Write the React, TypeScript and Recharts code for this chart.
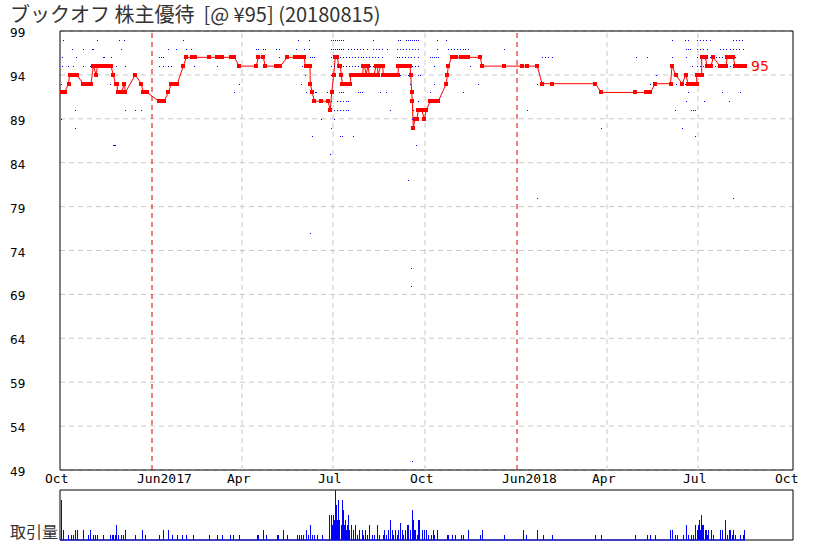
import React from "react";
import {
  ComposedChart,
  Line,
  Scatter,
  Bar,
  XAxis,
  YAxis,
  CartesianGrid,
  ReferenceLine,
  ReferenceArea,
  ReferenceDot,
} from "recharts";

// x = days since 2016-10-01
const X_TICKS = [0, 92, 182, 273, 365, 457, 547, 638, 730];
const X_LABELS = ["Oct", "Jun2017", "Apr", "Jul", "Oct", "Jun2018", "Apr", "Jul", "Oct"];
const Y_TICKS = [49, 54, 59, 64, 69, 74, 79, 84, 89, 94, 99];
const LAST_PRICE = 95;

// closing price line [day, price]
const priceLine: [number, number][] = [
  [0, 92], [2, 92], [4.5, 92], [8.5, 93], [9.5, 94], [12, 94], [15, 94], [17, 94],
  [23, 93], [25, 93], [28, 93], [31, 93],
  [33.3, 95], [36.3, 94], [37.3, 95], [40, 95], [44, 95], [48, 95], [51, 95],
  [53.3, 94], [55.5, 93], [57, 93], [57.5, 92], [60, 92], [61.3, 92],
  [64.3, 93], [65.3, 92], [75.3, 94],
  [81.3, 93], [83.3, 92], [85.5, 92], [87.3, 92],
  [98.7, 91], [101, 91], [104, 91],
  [108.3, 92], [111.3, 93], [114, 93], [117.3, 93],
  [123.3, 95], [126.3, 96], [132.3, 96], [134, 96], [135, 96], [149.3, 96], [156.7, 96],
  [158.3, 96], [162.3, 96], [170.7, 96], [172.5, 96], [174.3, 96],
  [179.3, 95], [196.3, 95], [198.3, 96], [203.3, 96],
  [205.3, 95], [215.7, 95], [218, 95], [220.3, 95],
  [227.3, 96], [235.3, 96], [238, 96], [241, 96], [244, 96],
  [245.5, 95], [248, 95], [250, 95],
  [250.3, 93], [252.3, 92], [254.3, 91], [261, 91], [268, 91], [270.3, 90], [271.7, 92],
  [273.7, 94], [275.3, 96], [277.3, 96], [278.7, 95], [280.3, 95], [281.3, 94],
  [282.3, 93], [285, 93], [287.5, 93], [290.3, 93],
  [290.5, 94], [293, 94], [296, 94], [299, 94], [302.7, 94],
  [303.3, 95], [304.7, 95], [306, 94], [308, 95], [309.3, 94], [312, 94], [314, 94],
  [316, 95], [317.3, 95], [318, 94], [320.7, 95], [322.7, 95], [323.3, 94], [326, 94],
  [329, 94], [332, 94], [335, 94], [338, 94],
  [338.5, 95], [341, 95], [344, 95], [347, 95], [350, 95],
  [350.7, 94], [351.7, 92], [352.3, 91], [353.3, 88], [355, 89], [357, 89], [358.3, 90],
  [360, 90], [361.7, 90], [364.3, 89], [366.3, 90], [370.3, 91], [373, 91], [376, 91], [378.3, 91],
  [386.3, 93], [387.3, 94], [388.3, 95], [391.7, 96], [394, 96], [396.3, 96], [400.7, 96],
  [403, 96], [405, 96], [408.3, 96], [420.3, 96], [422, 95], [444.3, 95], [462.3, 95],
  [467.3, 95], [477.3, 95],
  [482, 93], [492.3, 93], [535.3, 93], [541.3, 92], [575.3, 92], [586.3, 92], [588.3, 92],
  [590.3, 92], [595.3, 93], [610.5, 93], [612, 95], [615.7, 94], [622.3, 93], [625.7, 94],
  [628.3, 93], [631, 93], [634, 93], [636.7, 93], [636.7, 94], [639, 94], [641.7, 94],
  [641.7, 96], [643.7, 96], [645.7, 96], [646.7, 95], [649, 95], [651, 95], [653.3, 96],
  [660, 95], [662, 95], [664, 95], [666, 95], [667.3, 96], [669.5, 96], [671.5, 96],
  [673.3, 96], [675, 95], [677.5, 95], [680, 95], [682.5, 95], [685, 95],
];

// individual quotes: [price, days...]
const quoteRows: [number, number[]][] = [
  [98, [3.3, 37.3, 59.3, 64.3, 123.3, 238.3, 249.3, 271, 273, 275, 277, 279, 281, 283, 313.3,
    338.3, 340, 346, 348, 350, 352, 354, 356, 358.3, 377.3, 386, 611.7, 625, 628.3, 636.7,
    640, 643, 646, 650, 673.3, 676, 679, 682.3]],
  [97, [12.3, 23.3, 32.3, 33.3, 61.3, 108.3, 116.3, 126.3, 131.3, 196.3, 198.3, 203.3, 205.3,
    216.3, 219.3, 236.3, 244, 249.3, 271, 273, 275, 277, 279, 281, 283, 288, 291, 294, 297, 300,
    303, 306.7, 312.7, 316, 319, 322, 326.7, 336.7, 340, 343, 346, 349, 352, 355, 358.3, 376.7,
    388.3, 391, 394, 397, 400, 403, 405, 408.3, 444, 626, 628, 630, 637.3, 640, 643, 646.7,
    660, 663, 666, 670, 673.3, 676, 679, 682.7]],
  [96, [2.3, 16.3, 43.3, 44.3, 51.3, 99.3, 101.3, 103.3, 219.3, 250.3, 252, 254.3, 271, 274,
    277, 280, 283, 286, 289, 292, 295, 298, 301, 303.3, 306, 309, 312, 315, 318, 321.7, 336.7,
    339, 342, 345, 348, 351, 354, 358.3, 370.3, 372.3, 374.3, 376.3, 378.3, 482, 485, 488.3,
    492.3, 575.7, 587.3, 611.7, 626, 637, 640, 643, 646, 650, 653, 656, 659, 662, 665, 668,
    671, 675]],
  [95, [2.3, 8.3, 13.3, 23.3, 30.3, 56.3, 65.3, 99.3, 103.3, 108.3, 111.3, 134.3, 157.3, 241.7,
    249.3, 271, 274, 277, 280, 283, 286, 289, 292, 295, 298, 301, 304, 307, 310, 313, 316, 319,
    322, 340, 343, 346, 349, 352, 355, 358.3, 374.3, 410.3, 632.3, 637, 640, 643, 646, 655,
    658, 661, 664, 667, 670, 673.3]],
  [94, [244.7, 271, 274, 295, 340, 348.3, 358, 359.7, 595.7]],
  [93, [1, 50.3, 179.3, 241.3, 249.3, 350, 374.3, 418.3, 477.3, 590.3, 616.3, 625.3, 636.7]],
  [92, [174.3, 246, 255, 256.3, 267.3, 271, 279.3, 281, 283.3, 298.3, 300, 301.7, 320, 326,
    370.3, 403.3, 628.3, 662.3, 680.3]],
  [91, [271, 277.3, 280, 283, 286, 288.3, 358.3, 626.3, 644.3, 669.3]],
  [90, [15.3, 65.3, 75.3, 81.3, 271, 274, 277, 280, 283, 286, 288.3, 330, 353.3, 467.3, 615.3,
    631.3, 633.3, 635.3]],
  [89, [1, 261, 274, 351.7]],
  [88, [15.3, 270.7, 541.3, 622.3]],
  [87, [252.3, 280, 281.7, 292.7, 635.3]],
  [86, [53.3, 54.3, 55, 356.3]],
  [85, [270.3]],
  [82, [348]],
  [80, [477, 673]],
  [76, [250]],
  [72, [351]],
  [70, [351]],
  [50, [352]],
];

// trading volume (relative) [day, volume]
const volume: [number, number][] = [
  [1, 80], [3.3, 20], [8.3, 10], [10.7, 10], [12.7, 10], [15, 20], [16.7, 20], [22.7, 20],
  [28.3, 10], [30, 20], [32.7, 10], [35, 10], [37.3, 10], [43.3, 10], [50, 10], [51.7, 10],
  [53.3, 10], [55, 10], [56.3, 30], [58.3, 10], [60.7, 10], [63.3, 10], [65, 20], [75.3, 10],
  [81.7, 20], [85, 10], [99.3, 10], [103.3, 20], [108.3, 20], [111.7, 10], [116.7, 10],
  [121.7, 10], [126, 10], [133.3, 10], [149.3, 10], [156.7, 10], [161.7, 10], [170, 10],
  [172.7, 10], [179.3, 10], [196.7, 10], [198.3, 10], [203.3, 20], [206, 10], [216.7, 10],
  [218.3, 10], [223.3, 20], [227.3, 10], [236.7, 10], [239, 10], [241, 10], [243.3, 10],
  [246, 20], [248.3, 10], [250.3, 30], [252.3, 10], [254.3, 10], [256.7, 10], [261.7, 10],
  [269.3, 50], [270.7, 50], [271.7, 30], [272.7, 50], [274, 40], [275, 100], [276, 70],
  [277.3, 40], [278.3, 80], [279.3, 40], [280.7, 30], [281.7, 80], [282.7, 40], [283.3, 60],
  [284.3, 30], [285, 40], [286, 20], [286.7, 30], [287.3, 20], [288.3, 50], [289.3, 20],
  [290.7, 30], [292.7, 20], [295, 30], [297.3, 10], [299.3, 20], [301.7, 20], [303.3, 10],
  [305, 20], [306.7, 10], [309.3, 30], [311.7, 10], [314, 10], [316.7, 30], [319.3, 10],
  [322.7, 10], [324, 20], [326, 10], [328.3, 20], [330, 40], [331.7, 20], [333.3, 10],
  [335, 20], [336.7, 10], [338.3, 20], [340, 35], [341.7, 20], [343.3, 10], [345, 20],
  [346.7, 30], [348.3, 30], [350, 20], [351.7, 60], [352.7, 40], [354, 20], [355, 20],
  [356.7, 10], [358.3, 40], [359.3, 40], [361.7, 20], [364, 20], [366, 20], [368.3, 10],
  [370.7, 10], [372.7, 20], [374.3, 10], [376.7, 20], [386.7, 10], [388.3, 10], [391.7, 10],
  [395, 10], [401, 10], [403.3, 10], [408.3, 20], [420, 10], [422.3, 20], [444.3, 10],
  [462.7, 20], [466, 10], [477.3, 20], [482.7, 10], [492.3, 10], [535.3, 10], [541.3, 10],
  [575.3, 10], [587.3, 10], [590, 10], [595.3, 10], [610, 20], [611.7, 20], [615, 10],
  [616.7, 10], [622.7, 10], [626, 30], [628.3, 10], [630.7, 10], [632.7, 10], [635.3, 30],
  [636.7, 20], [638, 30], [639.3, 40], [640.3, 20], [641.3, 50], [642.3, 30], [643.3, 30],
  [644.7, 20], [646, 20], [647.3, 10], [648.3, 20], [650.7, 20], [653.3, 10], [660, 20],
  [662, 20], [665.3, 40], [667.3, 10], [668.7, 20], [670, 20], [671.7, 10], [673.3, 20],
  [675, 10], [680, 10], [682.7, 10], [684.3, 20],
];

const lineData = priceLine.map(([d, p]) => ({ d, p }));
const quoteData = quoteRows.flatMap(([p, days]) => days.map((d) => ({ d, p })));
const volData = volume.map(([d, v]) => ({ d, v }));
const lastDay = priceLine[priceLine.length - 1][0];

const XTick = (props: any) => {
  const { x, payload } = props;
  const i = X_TICKS.indexOf(payload.value);
  return (
    <text x={x - 15} y={483} fontSize={13} fontFamily="'DejaVu Sans Mono', monospace" fill="#000" textAnchor="start">
      {X_LABELS[i]}
    </text>
  );
};

const YTick = (props: any) => {
  const { y, payload } = props;
  return (
    <text x={10} y={y + 6} fontSize={12} fontFamily="'DejaVu Sans', sans-serif" fill="#000" textAnchor="start">
      {payload.value}
    </text>
  );
};

const Marker = (props: any) => {
  const { cx, cy, index } = props;
  return <rect key={`m${index}`} x={Math.round(cx) - 2} y={Math.round(cy) - 2} width={4} height={4} fill="#ff0000" />;
};

const QuoteDot = (props: any) => {
  const { cx, cy } = props;
  return <rect x={Math.round(cx)} y={Math.round(cy)} width={1} height={1} fill="#0000ff" />;
};

const VolBar = (props: any) => {
  const { x, y, width, height } = props;
  if (!height) return null;
  const top = Math.round(y);
  return (
    <rect
      x={Math.round(x + width / 2)}
      y={top}
      width={1}
      height={Math.round(y + height) - top}
      fill="#0000ff"
    />
  );
};

export default function App() {
  return (
    <div style={{ position: "absolute", left: 0, top: 0, width: 829, height: 551, background: "#fff" }}>
      <div
        style={{
          position: "absolute",
          left: 10,
          top: 4,
          fontSize: 20,
          lineHeight: "20px",
          fontFamily: "'Noto Sans CJK JP', sans-serif",
          color: "#333",
          whiteSpace: "pre",
        }}
      >
        ブックオフ 株主優待  [@ ¥95] (20180815)
      </div>

      <div style={{ position: "absolute", left: 0, top: 0 }}>
        <ComposedChart width={829} height={490} margin={{ top: 31, right: 36, bottom: 0, left: 0 }}>
          <CartesianGrid vertical={false} stroke="#c8c8c8" strokeDasharray="5 4" />
          <XAxis
            type="number"
            dataKey="d"
            domain={[0, 733]}
            ticks={X_TICKS}
            tick={<XTick />}
            tickLine={false}
            axisLine={false}
            height={20}
            allowDataOverflow
          />
          <YAxis
            type="number"
            dataKey="p"
            domain={[49, 99]}
            ticks={Y_TICKS}
            tick={<YTick />}
            tickLine={false}
            axisLine={false}
            width={60}
            allowDataOverflow
          />
          {X_TICKS.slice(1, -1).map((t, i) => (
            <ReferenceLine
              key={t}
              x={t}
              stroke={X_LABELS[i + 1].length > 3 ? "#e00000" : "#c8c8c8"}
              strokeDasharray="5 4"
            />
          ))}
          <ReferenceArea x1={0} x2={733} y1={49} y2={99} fill="none" stroke="#000" strokeWidth={1} />
          <Scatter data={quoteData} dataKey="p" shape={<QuoteDot />} isAnimationActive={false} />
          <Line
            data={lineData}
            dataKey="p"
            type="linear"
            stroke="#ff0000"
            strokeWidth={1}
            dot={<Marker />}
            activeDot={false}
            isAnimationActive={false}
          />
          <ReferenceDot
            x={lastDay}
            y={LAST_PRICE}
            r={0}
            stroke="none"
            label={{ value: String(LAST_PRICE), position: "right", offset: 6, fill: "#ff0000", fontSize: 14, fontFamily: "'DejaVu Sans', sans-serif" }}
          />
        </ComposedChart>
      </div>

      <div
        style={{
          position: "absolute",
          left: 10,
          top: 521,
          fontSize: 16,
          lineHeight: "20px",
          fontFamily: "'Noto Sans CJK JP', sans-serif",
          color: "#333",
        }}
      >
        取引量
      </div>

      <div style={{ position: "absolute", left: 0, top: 480 }}>
        <ComposedChart width={829} height={70} data={volData} margin={{ top: 10, right: 36, bottom: 10, left: 60 }}>
          <XAxis type="number" dataKey="d" domain={[0, 733]} hide allowDataOverflow />
          <YAxis type="number" domain={[0, 100]} hide allowDataOverflow />
          <ReferenceArea x1={0} x2={733} y1={0} y2={100} fill="none" stroke="#000" strokeWidth={1} />
          <Bar dataKey="v" fill="#0000ff" barSize={1} shape={<VolBar />} isAnimationActive={false} />
          <ReferenceLine segment={[{ x: 0, y: 0 }, { x: lastDay, y: 0 }]} stroke="#0000ff" />
        </ComposedChart>
      </div>
    </div>
  );
}
